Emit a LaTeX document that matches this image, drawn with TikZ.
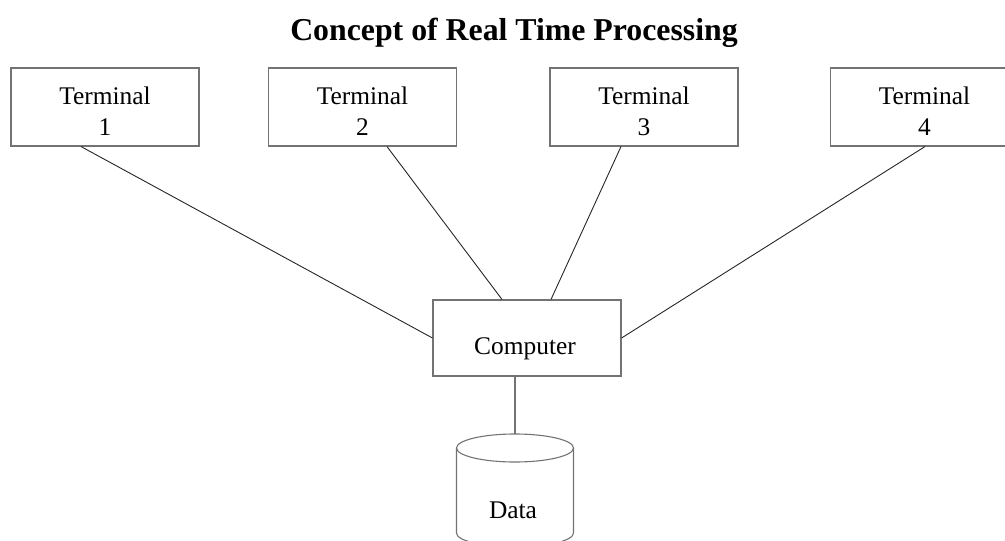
\documentclass[tikz,border=0pt]{standalone}
\usepackage{fontspec}
\setmainfont{Liberation Serif}
\begin{document}
\begin{tikzpicture}[x=1pt,y=-1pt,
  boxnode/.style={draw=black!55,line width=1.1pt,minimum width=188pt,inner sep=0pt},
  termbox/.style={boxnode,minimum height=78pt},
  lbl/.style={font=\fontsize{25.4}{30.5}\selectfont,align=center,inner sep=0pt},
  conn/.style={draw=black!85,line width=0.9pt}]
\useasboundingbox (0,0) rectangle (1005,541);
\clip (0,0) rectangle (1005,541);
% title
\node[font=\bfseries\fontsize{31.8}{38}\selectfont,anchor=base,inner sep=0pt] (title) at (514,40) {Concept of Real Time Processing};
% terminals
\node[termbox] (t1) at (105,107) {};
\node[termbox] (t2) at (362.5,107) {};
\node[termbox] (t3) at (644,107) {};
\node[termbox] (t4) at (924.5,107) {};
\node[lbl,anchor=base] (t1a) at (105,104) {Terminal};
\node[lbl,anchor=base] (t1b) at (105,135) {1};
\node[lbl,anchor=base] (t2a) at (362.5,104) {Terminal};
\node[lbl,anchor=base] (t2b) at (362.5,135) {2};
\node[lbl,anchor=base] (t3a) at (644,104) {Terminal};
\node[lbl,anchor=base] (t3b) at (644,135) {3};
\node[lbl,anchor=base] (t4a) at (924.5,104) {Terminal};
\node[lbl,anchor=base] (t4b) at (924.5,135) {4};
% computer
\node[boxnode,minimum height=76pt] (comp) at (527,338) {};
\node[lbl,anchor=base] (compl) at (525,354) {Computer};
% data cylinder
\coordinate (dbtop) at (515,434);
\draw[draw=black!55,line width=1.1pt] (515,448) ellipse [x radius=58.5pt,y radius=14pt];
\draw[draw=black!55,line width=1.1pt] (456.5,448) -- (456.5,533) arc[start angle=180,end angle=360,x radius=58.5pt,y radius=14pt] -- (573.5,448);
\node[lbl,anchor=base] (datal) at (513,518) {Data};
% connectors
\draw[conn] ([xshift=-24pt]t1.south) -- (comp.west);
\draw[conn] ([xshift=24.5pt]t2.south) -- ([xshift=-25pt]comp.north);
\draw[conn] ([xshift=-23pt]t3.south) -- ([xshift=24pt]comp.north);
\draw[conn] ([xshift=0.5pt]t4.south) -- (comp.east);
\draw[draw=black!55,line width=1.1pt] (comp.south -| dbtop) -- (dbtop);
\end{tikzpicture}
\end{document}
